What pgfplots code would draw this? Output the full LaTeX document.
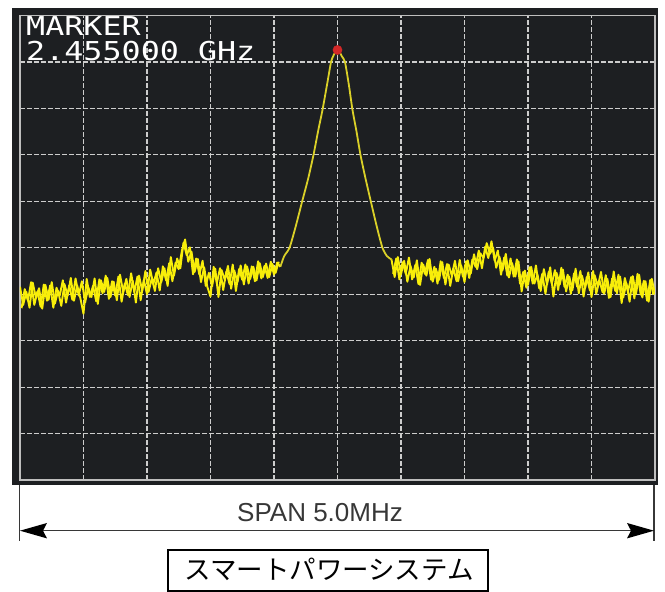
\documentclass[border=0pt]{standalone}
\usepackage{pgfplots}
\pgfplotsset{compat=1.18}
\usepackage{fontspec}
\setmainfont{Liberation Sans}
\newfontfamily\cjk{Noto Sans CJK JP}
\newfontfamily\scrmono{DejaVu Sans Mono}
\definecolor{scrbg}{RGB}{29,31,34}
\definecolor{gridc}{RGB}{205,205,205}
\definecolor{borderc}{RGB}{190,190,190}
\definecolor{trace}{RGB}{248,238,10}
\definecolor{peakc}{RGB}{218,208,40}
\definecolor{mark}{RGB}{210,40,40}
\definecolor{dimc}{RGB}{55,55,55}
\begin{document}
\begin{tikzpicture}
\useasboundingbox (0pt,0pt) rectangle (665pt,592pt);
\fill[scrbg] (12pt,107pt) rectangle (658pt,584pt);
\begin{axis}[
  at={(20pt,112pt)}, anchor=south west,
  scale only axis, width=635pt, height=464.4pt,
  xmin=-2.5, xmax=2.5, ymin=0, ymax=10,
  xtick={-2,-1.5,-1,-0.5,0,0.5,1,1.5,2},
  ytick={1,2,3,4,5,6,7,8,9},
  xticklabels={}, yticklabels={},
  major tick length=0pt,
  grid=major,
  major grid style={draw=gridc, line width=1.1pt, dash pattern=on 5pt off 2pt},
  axis line style={draw=borderc, line width=1.6pt},
]
% left noise floor, sweep A
\addplot[trace, line width=1.9pt, line join=round] coordinates {
(-2.500,4.16) (-2.475,3.77) (-2.450,4.05) (-2.425,3.71) (-2.400,4.25) (-2.375,3.93)
(-2.350,4.13) (-2.325,3.69) (-2.300,4.20) (-2.275,3.88) (-2.250,4.26) (-2.225,3.80)
(-2.200,4.07) (-2.175,3.75) (-2.150,4.22) (-2.125,3.97) (-2.100,4.35) (-2.075,3.86)
(-2.050,4.19) (-2.025,3.92) (-2.000,3.58) (-1.975,4.33) (-1.950,3.94) (-1.925,4.18)
(-1.900,3.85) (-1.875,4.32) (-1.850,4.02) (-1.825,4.40) (-1.800,3.90) (-1.775,4.28)
(-1.750,3.97) (-1.725,4.38) (-1.700,3.84) (-1.675,4.23) (-1.650,3.98) (-1.625,4.45)
(-1.600,4.05) (-1.575,4.38) (-1.550,3.87) (-1.525,4.31) (-1.500,4.00) (-1.475,4.53)
(-1.450,4.22) (-1.425,4.47) (-1.400,4.08) (-1.375,4.60) (-1.350,4.30) (-1.325,4.67)
(-1.300,4.28) (-1.275,4.68) (-1.250,4.54) (-1.225,4.94) (-1.200,5.18) (-1.175,4.70)
(-1.150,4.92) (-1.125,4.48) (-1.100,4.76) (-1.075,4.26) (-1.050,4.58) (-1.025,4.16)
(-1.000,3.95) (-0.975,4.59) (-0.950,4.24) (-0.925,4.56) (-0.900,4.09) (-0.875,4.49)
(-0.850,4.22) (-0.825,4.64) (-0.800,4.07) (-0.775,4.54) (-0.750,4.31) (-0.725,4.64)
(-0.700,4.23) (-0.675,4.60) (-0.650,4.28) (-0.625,4.71) (-0.600,4.34) (-0.575,4.61)
(-0.550,4.35) (-0.525,4.70) (-0.500,4.42) (-0.475,4.68) (-0.450,4.59)
};
% left noise floor, sweep B
\addplot[trace, line width=1.9pt, line join=round] coordinates {
(-2.4875,3.70) (-2.4625,4.11) (-2.4375,3.86) (-2.4125,4.26) (-2.3875,3.77) (-2.3625,4.06)
(-2.3375,3.73) (-2.3125,4.21) (-2.2875,3.86) (-2.2625,4.19) (-2.2375,3.71) (-2.2125,4.14)
(-2.1875,3.97) (-2.1625,4.30) (-2.1375,3.82) (-2.1125,4.19) (-2.0875,3.88) (-2.0625,4.34)
(-2.0375,3.97) (-2.0125,4.28) (-1.9875,3.82) (-1.9625,4.15) (-1.9375,3.94) (-1.9125,4.34)
(-1.8875,3.79) (-1.8625,4.30) (-1.8375,4.05) (-1.8125,4.35) (-1.7875,3.94) (-1.7625,4.27)
(-1.7375,3.87) (-1.7125,4.42) (-1.6875,4.05) (-1.6625,4.33) (-1.6375,3.94) (-1.6125,4.29)
(-1.5875,3.82) (-1.5625,4.40) (-1.5375,4.07) (-1.5125,4.50) (-1.4875,4.05) (-1.4625,4.34)
(-1.4375,4.07) (-1.4125,4.56) (-1.3875,4.26) (-1.3625,4.56) (-1.3375,4.18) (-1.3125,4.80)
(-1.2875,4.40) (-1.2625,4.77) (-1.2375,4.56) (-1.2125,5.11) (-1.1875,4.84) (-1.1625,5.01)
(-1.1375,4.43) (-1.1125,4.77) (-1.0875,4.42) (-1.0625,4.72) (-1.0375,4.18) (-1.0125,4.46)
(-0.9875,4.17) (-0.9625,4.55) (-0.9375,3.94) (-0.9125,4.52) (-0.8875,4.31) (-0.8625,4.61)
(-0.8375,4.12) (-0.8125,4.51) (-0.7875,4.26) (-0.7625,4.62) (-0.7375,4.21) (-0.7125,4.60)
(-0.6875,4.33) (-0.6625,4.59) (-0.6375,4.30) (-0.6125,4.67) (-0.5875,4.37) (-0.5625,4.66)
(-0.5375,4.37) (-0.5125,4.65) (-0.4875,4.46) (-0.4625,4.70)
};
% main carrier
\addplot[peakc, line width=1.8pt, smooth, tension=0.4] coordinates {
(-0.450,4.59) (-0.420,4.82) (-0.378,5.00) (-0.330,5.45) (-0.280,5.98) (-0.230,6.50)
(-0.189,7.00) (-0.150,7.55) (-0.118,7.97) (-0.080,8.55) (-0.051,9.00) (-0.035,9.12)
(-0.020,9.20) (0.000,9.26) (0.020,9.20) (0.035,9.12) (0.059,9.00) (0.090,8.50)
(0.118,7.97) (0.150,7.50) (0.181,7.00) (0.220,6.50) (0.264,5.98) (0.310,5.45)
(0.354,5.00) (0.390,4.82) (0.425,4.75)
};
% right noise floor, sweep A
\addplot[trace, line width=1.9pt, line join=round] coordinates {
(0.425,4.75) (0.450,4.37) (0.475,4.80) (0.500,4.43) (0.525,4.72) (0.550,4.27)
(0.575,4.61) (0.600,4.36) (0.625,4.73) (0.650,4.20) (0.675,4.64) (0.700,4.40)
(0.725,4.76) (0.750,4.27) (0.775,4.55) (0.800,4.31) (0.825,4.69) (0.850,4.21)
(0.875,4.64) (0.900,4.40) (0.925,4.72) (0.950,4.28) (0.975,4.61) (1.000,4.26)
(1.025,4.73) (1.050,4.45) (1.075,4.86) (1.100,4.54) (1.125,4.88) (1.150,4.78)
(1.175,5.10) (1.200,4.87) (1.225,5.00) (1.250,4.57) (1.275,4.81) (1.300,4.52)
(1.325,4.87) (1.350,4.36) (1.375,4.67) (1.400,4.38) (1.425,4.71) (1.450,4.06)
(1.475,4.51) (1.500,4.20) (1.525,4.59) (1.550,4.23) (1.575,4.42) (1.600,4.07)
(1.625,4.54) (1.650,4.21) (1.675,4.58) (1.700,3.95) (1.725,4.46) (1.750,4.21)
(1.775,4.53) (1.800,4.06) (1.825,4.38) (1.850,4.09) (1.875,4.55) (1.900,4.02)
(1.925,4.40) (1.950,4.13) (1.975,4.47) (2.000,3.94) (2.025,4.41) (2.050,4.17)
(2.075,4.48) (2.100,4.01) (2.125,4.33) (2.150,3.94) (2.175,4.49) (2.200,4.02)
(2.225,4.38) (2.250,3.93) (2.275,4.24) (2.300,3.84) (2.325,4.39) (2.350,4.00)
(2.375,4.42) (2.400,3.93) (2.425,4.28) (2.450,3.84) (2.475,4.33) (2.500,4.00)
};
% right noise floor, sweep B
\addplot[trace, line width=1.9pt, line join=round] coordinates {
(0.4375,4.44) (0.4625,4.77) (0.4875,4.32) (0.5125,4.69) (0.5375,4.44) (0.5625,4.79)
(0.5875,4.32) (0.6125,4.63) (0.6375,4.22) (0.6625,4.68) (0.6875,4.44) (0.7125,4.74)
(0.7375,4.31) (0.7625,4.59) (0.7875,4.23) (0.8125,4.71) (0.8375,4.35) (0.8625,4.65)
(0.8875,4.18) (0.9125,4.56) (0.9375,4.28) (0.9625,4.74) (0.9875,4.38) (1.0125,4.71)
(1.0375,4.35) (1.0625,4.75) (1.0875,4.59) (1.1125,4.94) (1.1375,4.56) (1.1625,5.02)
(1.1875,4.78) (1.2125,5.14) (1.2375,4.72) (1.2625,4.94) (1.2875,4.42) (1.3125,4.79)
(1.3375,4.40) (1.3625,4.77) (1.3875,4.38) (1.4125,4.75) (1.4375,4.23) (1.4625,4.48)
(1.4875,4.14) (1.5125,4.58) (1.5375,4.23) (1.5625,4.62) (1.5875,4.13) (1.6125,4.44)
(1.6375,4.01) (1.6625,4.48) (1.6875,4.23) (1.7125,4.52) (1.7375,4.09) (1.7625,4.57)
(1.7875,4.16) (1.8125,4.42) (1.8375,4.01) (1.8625,4.45) (1.8875,4.16) (1.9125,4.50)
(1.9375,3.95) (1.9625,4.37) (1.9875,4.08) (2.0125,4.50) (2.0375,4.01) (2.0625,4.30)
(2.0875,4.04) (2.1125,4.41) (2.1375,3.92) (2.1625,4.34) (2.1875,4.07) (2.2125,4.42)
(2.2375,3.81) (2.2625,4.35) (2.2875,4.06) (2.3125,4.37) (2.3375,3.91) (2.3625,4.44)
(2.3875,3.99) (2.4125,4.29) (2.4375,3.86) (2.4625,4.31) (2.4875,3.99)
};
% marker
\addplot[only marks, mark=*, mark size=4.6pt, mark options={fill=mark, draw=mark}] coordinates {(0,9.26)};
\end{axis}
% marker readout
\node[anchor=base west, inner sep=0pt, text=white] at (26pt,556pt)
  {\scalebox{1.22}[1]{\scrmono\fontsize{26}{30}\selectfont MARKER}};
\node[anchor=base west, inner sep=0pt, text=white] at (26pt,531pt)
  {\scalebox{1.22}[1]{\scrmono\fontsize{26}{30}\selectfont 2.455000 GHz}};
% span dimension
\draw[dimc, line width=1.5pt] (19.5pt,107pt) -- (19.5pt,51pt);
\draw[dimc, line width=1.5pt] (654pt,107pt) -- (654pt,51pt);
\draw[dimc, line width=1.5pt] (40pt,61.3pt) -- (634pt,61.3pt);
\fill[black] (20pt,61.3pt) -- (47pt,69pt) -- (43pt,61.3pt) -- (47pt,53.6pt) -- cycle;
\fill[black] (654pt,61.3pt) -- (627pt,69pt) -- (631pt,61.3pt) -- (627pt,53.6pt) -- cycle;
\node[anchor=base west, inner sep=0pt, text=dimc] at (237pt,70pt)
  {\fontsize{26}{30}\selectfont SPAN 5.0MHz};
% caption box
\draw[black, line width=1.2pt] (168pt,1pt) rectangle (488pt,42pt);
\node[anchor=base, inner sep=0pt] at (329pt,12pt)
  {\cjk\fontsize{26.5}{30}\selectfont スマートパワーシステム};
\end{tikzpicture}
\end{document}
